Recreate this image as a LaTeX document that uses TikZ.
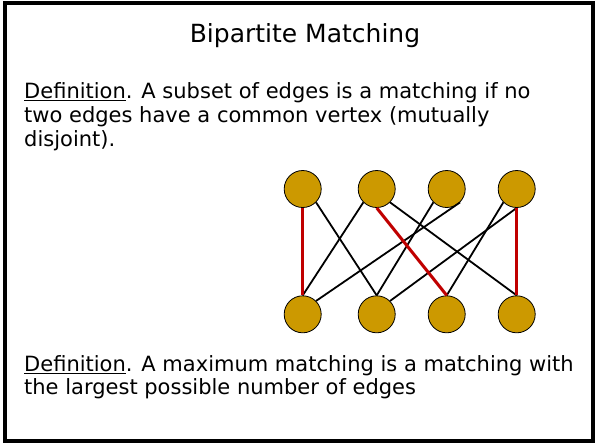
\documentclass[tikz,border=0pt]{standalone}
\usepackage{fontspec}
\setmainfont{DejaVu Sans}
\definecolor{gold}{HTML}{CC9900}
\definecolor{matchred}{HTML}{C00000}
\begin{document}
\begin{tikzpicture}[x=1pt,y=-1pt,
  vtx/.style={circle,fill=gold,draw=black,line width=0.8pt,minimum size=37pt,inner sep=0pt},
  plainedge/.style={line width=1.8pt,black},
  matchedge/.style={line width=3pt,matchred},
  txt/.style={anchor=base west,inner sep=0pt,font=\fontsize{21}{24}\selectfont},
  ttl/.style={anchor=base,inner sep=0pt,font=\fontsize{25}{30}\selectfont}]
\useasboundingbox (0,0) rectangle (596,445);
\draw[line width=3.2pt] (5,3) rectangle (593,441);
\node[ttl] (title) at (305,42) {Bipartite Matching};
\node[txt] (l1) at (24,98) {\underline{Definition}. A subset of edges is a matching if no};
\node[txt] (l2) at (24,122) {two edges have a common vertex (mutually};
\node[txt] (l3) at (24,146) {disjoint).};
\node[txt] (l4) at (24,371) {\underline{Definition}. A maximum matching is a matching with};
\node[txt] (l5) at (24,394) {the largest possible number of edges};
\node[vtx] (t1) at (302.7,189) {};
\node[vtx] (t2) at (376.7,189) {};
\node[vtx] (t3) at (446.7,189) {};
\node[vtx] (t4) at (516.7,189) {};
\node[vtx] (b1) at (302.7,314.3) {};
\node[vtx] (b2) at (376.7,314.3) {};
\node[vtx] (b3) at (446.7,314.3) {};
\node[vtx] (b4) at (516.7,314.3) {};
\draw[plainedge] (t1.south east) -- (b2.north);
\draw[plainedge] (t2.south west) -- (b1.north);
\draw[plainedge] (t2.south east) -- (b4.north);
\draw[plainedge] (t3.south west) -- (b2.north);
\draw[plainedge] (t3.south east) -- (b1.north east);
\draw[plainedge] (t4.south west) -- (b3.north);
\draw[plainedge] (t4.south) -- (b2.north east);
\draw[matchedge] (t1.south) -- (b1.north);
\draw[matchedge] (t2.south) -- (b3.north);
\draw[matchedge] (t4.south) -- (b4.north);
\end{tikzpicture}
\end{document}
